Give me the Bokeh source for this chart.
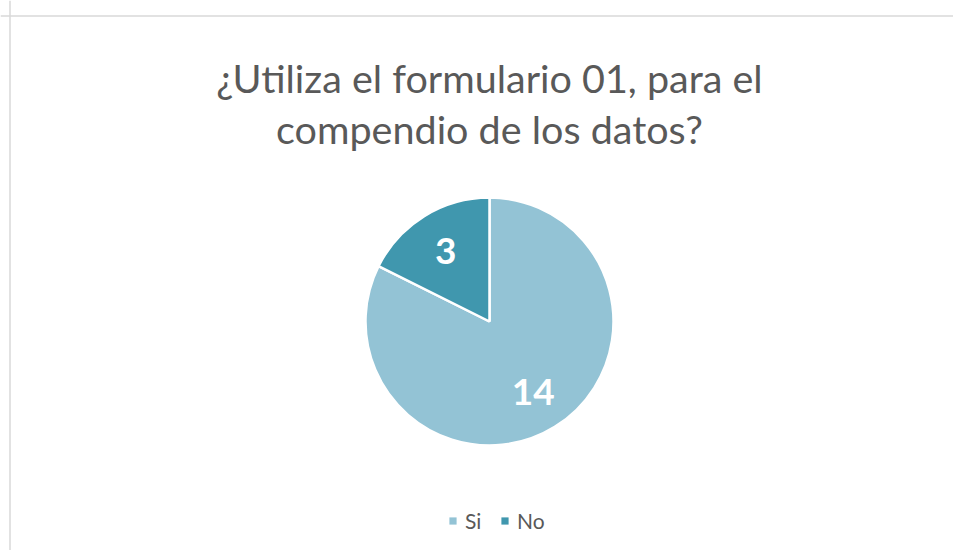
import math
from bokeh.plotting import figure
from bokeh.models import ColumnDataSource, Range1d, Label, Legend, LegendItem, Span
from bokeh.core.properties import value
from bokeh.embed import file_html
from bokeh.resources import INLINE

# ---- data ----
title_lines = ["¿Utiliza el formulario 01, para el", "compendio de los datos?"]
categories = ["Si", "No"]
counts = [14, 3]
colors = ["#93C3D5", "#4097AE"]

# ---- derived wedge angles (Excel: start at 12 o'clock, clockwise) ----
total = sum(counts)
starts, ends, mids = [], [], []
acc = 0.0
for c in counts:
    a0 = math.pi / 2 - 2 * math.pi * acc / total
    a1 = math.pi / 2 - 2 * math.pi * (acc + c) / total
    starts.append(a0)
    ends.append(a1)
    mids.append((a0 + a1) / 2)
    acc += c

W, H = 953, 550
CX, CY = 489, 321  # pie centre in canvas pixels (from top-left)
R = 124

p = figure(width=W, height=H, output_backend="svg", toolbar_location=None,
           x_axis_location=None, y_axis_location=None,
           x_range=Range1d(-CX, W - CX), y_range=Range1d(CY - H, CY),
           min_border=0, outline_line_color=None, background_fill_color="white",
           border_fill_color="white")
p.grid.visible = False

src = ColumnDataSource(dict(cat=categories, val=counts, start=starts, end=ends, color=colors,
                            lx=[0.67 * R * math.cos(m) for m in mids],
                            ly=[0.67 * R * math.sin(m) for m in mids],
                            lbl=[str(v) for v in counts]))

for i in range(len(categories)):
    p.wedge(x=0, y=0, radius=R, start_angle=starts[i], end_angle=ends[i], direction="clock",
            fill_color=colors[i], line_color="white", line_width=2.5)

# square legend swatches (proxies: NaN geometry, nothing drawn in the plot)
nan = float("nan")
swatches = []
for i in range(len(categories)):
    sw = p.quad(left=[nan], right=[nan], top=[nan], bottom=[nan], fill_color=colors[i], line_color=None)
    swatches.append(sw)

p.text(x="lx", y="ly", text="lbl", source=src, text_align="center", text_baseline="middle",
       text_color="white", text_font=value("Lato"), text_font_style="bold", text_font_size="37px")

# chart-area border (left and top edges visible)
p.add_layout(Span(location=-CX + 9.5, dimension="height", line_color="#D9D9D9", line_width=1.5))
p.add_layout(Span(location=CY - 15.5, dimension="width", line_color="#D9D9D9", line_width=1.5))

# title
baselines = [77, 128]
for j, t in enumerate(title_lines):
    p.add_layout(Label(x=0, y=CY - baselines[j], text=t, text_align="center", text_baseline="alphabetic",
                       text_color="#595959", text_font="Lato", text_font_size="39.5px"))

legend = Legend(items=[LegendItem(label=categories[i], renderers=[swatches[i]]) for i in range(len(categories))],
                orientation="horizontal", location=(448, 17), glyph_width=9, glyph_height=9,
                label_standoff=8, spacing=15, padding=0, margin=0,
                label_text_font="Lato", label_text_font_size="21px", label_text_color="#595959",
                background_fill_alpha=0, border_line_color=None)
p.add_layout(legend)

open("out.html", "w").write(file_html(p, INLINE))
